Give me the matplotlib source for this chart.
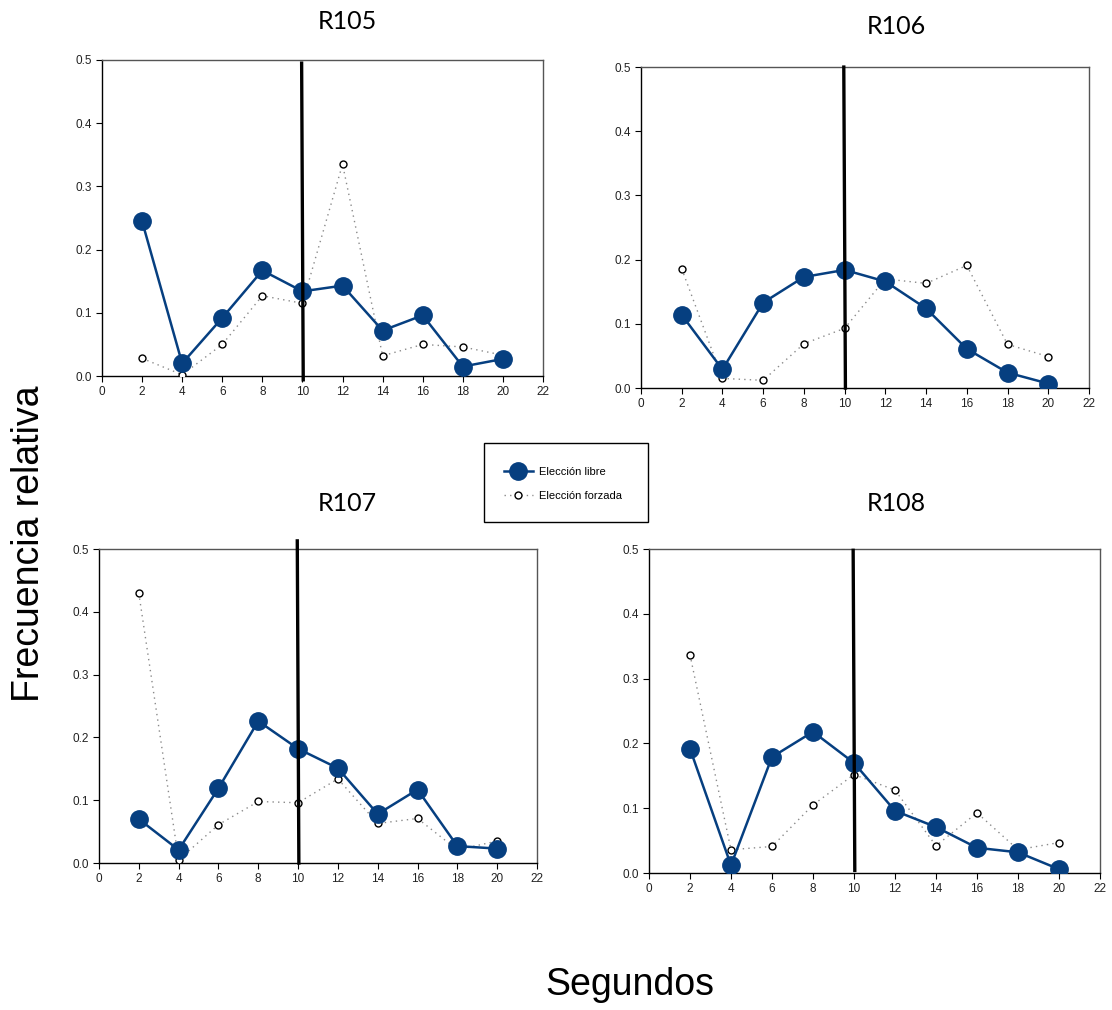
import matplotlib
matplotlib.use("Agg")
import matplotlib.pyplot as plt
from matplotlib.lines import Line2D
from matplotlib.patches import Rectangle

plt.rcParams['font.family'] = ['Liberation Sans', 'DejaVu Sans']

# Seconds bins
segundos = [2, 4, 6, 8, 10, 12, 14, 16, 18, 20]

# Relative frequency per subject
titulos = ["R105", "R106", "R107", "R108"]

libre_r105 = [0.245, 0.020, 0.092, 0.167, 0.134, 0.143, 0.072, 0.096, 0.015, 0.027]
forzada_r105 = [0.028, 0.002, 0.050, 0.127, 0.115, 0.335, 0.032, 0.050, 0.046, 0.033]

libre_r106 = [0.114, 0.029, 0.133, 0.173, 0.184, 0.166, 0.124, 0.061, 0.024, 0.007]
forzada_r106 = [0.186, 0.015, 0.012, 0.069, 0.093, 0.170, 0.163, 0.191, 0.068, 0.049]

libre_r107 = [0.070, 0.021, 0.119, 0.226, 0.182, 0.151, 0.078, 0.117, 0.027, 0.023]
forzada_r107 = [0.430, 0.005, 0.061, 0.098, 0.096, 0.134, 0.063, 0.071, 0.021, 0.035]

libre_r108 = [0.192, 0.012, 0.179, 0.218, 0.170, 0.096, 0.071, 0.039, 0.032, 0.006]
forzada_r108 = [0.337, 0.036, 0.041, 0.105, 0.152, 0.128, 0.042, 0.093, 0.036, 0.047]

libre = [libre_r105, libre_r106, libre_r107, libre_r108]
forzada = [forzada_r105, forzada_r106, forzada_r107, forzada_r108]

corte = 10  # reference time (s)

AZUL = '#063f80'

fig = plt.figure(figsize=(11.12, 10.10), dpi=100)

# axes rectangles [left, bottom, width, height] in figure fraction
rects = [
    [0.0917, 0.6277, 0.3966, 0.3129],
    [0.5764, 0.6158, 0.4029, 0.3178],
    [0.0890, 0.1455, 0.3939, 0.3109],
    [0.5836, 0.1356, 0.4056, 0.3208],
]
# title centres (figure fraction)
title_pos = [(0.312, 0.979), (0.806, 0.974), (0.312, 0.501), (0.806, 0.501)]
# vertical marker extents (y bottom, y top)
vline_ext = [(-0.006, 0.495), (0.0, 0.5), (0.0, 0.513), (0.004, 0.498)]

for i in range(4):
    ax = fig.add_axes(rects[i])
    ax.plot(segundos, forzada[i], linestyle=(0, (1, 3)), color='#8a8a8a', lw=1.0,
            marker='o', markersize=5, markerfacecolor='white',
            markeredgecolor='black', markeredgewidth=1.0, zorder=3)
    ax.plot(segundos, libre[i], linestyle='-', color=AZUL, lw=1.8,
            marker='o', markersize=12.5, markerfacecolor=AZUL,
            markeredgecolor=AZUL, zorder=4)
    y0, y1 = vline_ext[i]
    ax.plot([corte + 0.04, corte - 0.04], [y0, y1], color='black', lw=2.4,
            clip_on=False, zorder=5)
    ax.set_xlim(0, 22)
    ax.set_ylim(0, 0.5)
    ax.set_xticks(range(0, 23, 2))
    ax.set_yticks([0.0, 0.1, 0.2, 0.3, 0.4, 0.5])
    ax.set_yticklabels(['0.0', '0.1', '0.2', '0.3', '0.4', '0.5'])
    ax.tick_params(axis='both', direction='out', length=4, width=0.8,
                   labelsize=8.5, colors='black', labelcolor='#222222', pad=3)
    for s in ['left', 'bottom']:
        ax.spines[s].set_color('black')
        ax.spines[s].set_linewidth(1.0)
    for s in ['top', 'right']:
        ax.spines[s].set_color('#555555')
        ax.spines[s].set_linewidth(1.0)
    fig.text(title_pos[i][0], title_pos[i][1], titulos[i], ha='center',
             va='center', fontsize=18, family=['Lato', 'DejaVu Sans'])

# legend box
fig.patches.append(Rectangle((484 / 1112, 1 - 522 / 1010), 164 / 1112, 79 / 1010,
                             transform=fig.transFigure, fill=False,
                             edgecolor='black', lw=1.0))
handles = [
    Line2D([], [], color=AZUL, lw=1.8, marker='o', markersize=12.5,
           markerfacecolor=AZUL, markeredgecolor=AZUL),
    Line2D([], [], color='#8a8a8a', lw=1.0, linestyle=(0, (1, 3)), marker='o',
           markersize=5, markerfacecolor='white', markeredgecolor='black'),
]
fig.legend(handles, ['Elección libre', 'Elección forzada'],
           loc='center', bbox_to_anchor=(563 / 1112, 1 - 484 / 1010),
           frameon=False, fontsize=8, handlelength=2.6, labelspacing=1.2,
           handletextpad=0.6)

fig.text(0.026, 0.462, 'Frecuencia relativa', rotation=90, ha='center',
         va='center', fontsize=27)
fig.text(0.566, 0.025, 'Segundos', ha='center', va='center', fontsize=27)

fig.savefig('out.png', dpi=100)
